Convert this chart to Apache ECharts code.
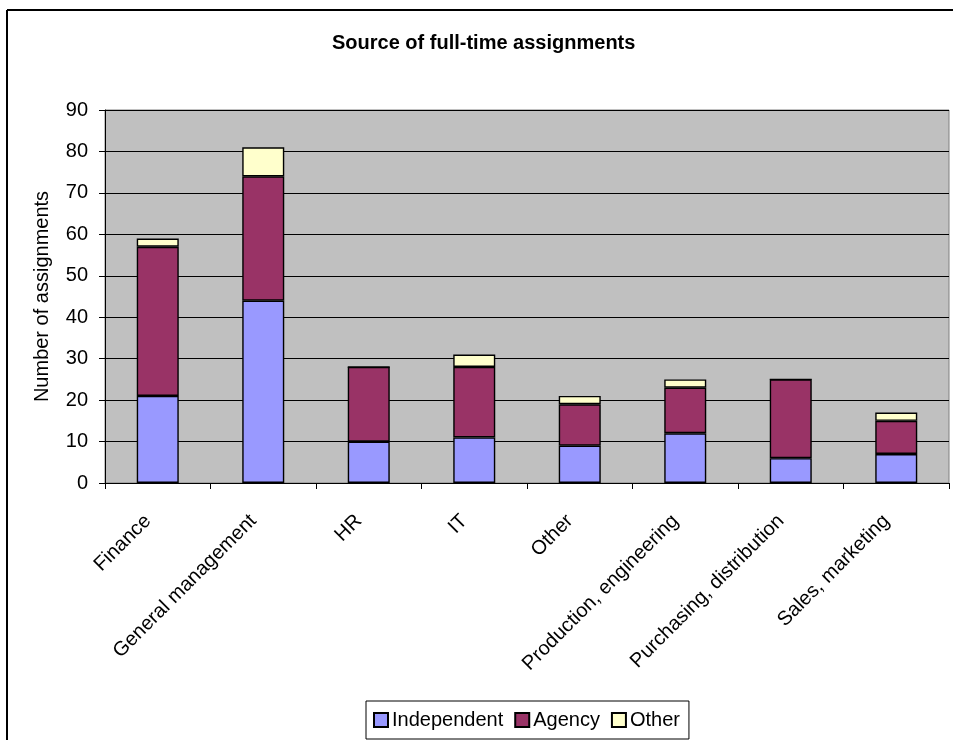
<!DOCTYPE html>
<html>
<head>
<meta charset="utf-8">
<title>Source of full-time assignments</title>
<script src="https://cdn.jsdelivr.net/npm/echarts@6/dist/echarts.min.js"></script>
<style>
  html, body { margin: 0; padding: 0; background: #ffffff; }
  #chart { width: 953px; height: 740px; }
</style>
</head>
<body>
<div id="chart"></div>
<script>
// Job areas along the x axis
const categories = [
  'Finance',
  'General management',
  'HR',
  'IT',
  'Other',
  'Production, engineering',
  'Purchasing, distribution',
  'Sales, marketing'
];

// Number of assignments per source, stacked bottom to top
const independent = [21, 44, 10, 11, 9, 12, 6, 7];
const agency      = [36, 30, 18, 17, 10, 11, 19, 8];
const other       = [2, 7, 0, 3, 2, 2, 0, 2];

// Value axis range
const yMin = 0;
const yMax = 90;
const yStep = 10;

const FONT = '"Liberation Sans", Arial, sans-serif';

const chart = echarts.init(document.getElementById('chart'), null, { renderer: 'canvas' });

function barSeries(name, values, color) {
  return {
    name: name,
    type: 'bar',
    stack: 'total',
    data: values,
    barWidth: 42,
    itemStyle: { color: color, borderColor: '#000000', borderWidth: 1.4 },
    emphasis: { disabled: true }
  };
}

chart.setOption({
  animation: false,
  backgroundColor: '#ffffff',
  title: {
    text: 'Source of full-time assignments',
    left: 327,
    top: 28,
    textStyle: { fontFamily: FONT, fontSize: 20, fontWeight: 'bold', color: '#000000' }
  },
  legend: {
    left: 366,
    top: 701,
    padding: [9, 9, 9, 7],
    itemGap: 11,
    itemWidth: 14,
    itemHeight: 14,
    borderColor: '#000000',
    borderWidth: 1,
    icon: 'rect',
    textStyle: { fontFamily: FONT, fontSize: 20, color: '#000000', padding: [0, 0, 0, -1] },
    data: ['Independent', 'Agency', 'Other']
  },
  grid: {
    left: 105,
    right: 4,
    top: 110,
    bottom: 257,
    show: true,
    backgroundColor: '#c0c0c0',
    borderColor: '#808080',
    borderWidth: 1,
    containLabel: false
  },
  xAxis: {
    type: 'category',
    data: categories,
    boundaryGap: true,
    axisLine: { show: true, lineStyle: { color: '#000000', width: 1 } },
    axisTick: { show: true, alignWithLabel: false, length: 6, lineStyle: { color: '#000000' } },
    axisLabel: {
      interval: 0,
      rotate: 45,
      margin: 25,
      padding: [0, 14, 0, 0],
      fontFamily: FONT,
      fontSize: 20,
      color: '#000000'
    },
    splitLine: { show: false }
  },
  yAxis: {
    type: 'value',
    min: yMin,
    max: yMax,
    interval: yStep,
    name: 'Number of assignments',
    nameLocation: 'middle',
    nameGap: 53,
    nameTextStyle: { fontFamily: FONT, fontSize: 20, color: '#000000' },
    axisLine: { show: true, lineStyle: { color: '#000000', width: 1 } },
    axisTick: { show: true, length: 6, lineStyle: { color: '#000000' } },
    axisLabel: { margin: 17, fontFamily: FONT, fontSize: 20, color: '#000000' },
    splitLine: { show: true, lineStyle: { color: '#000000', width: 1 } }
  },
  series: [
    barSeries('Independent', independent, '#9999ff'),
    barSeries('Agency', agency, '#993366'),
    barSeries('Other', other, '#ffffcc')
  ],
  graphic: [
    // outer chart frame (left and top edges)
    { type: 'line', shape: { x1: 7, y1: 10, x2: 953, y2: 10 }, style: { stroke: '#000000', lineWidth: 2 }, silent: true },
    { type: 'line', shape: { x1: 7, y1: 10, x2: 7, y2: 740 }, style: { stroke: '#000000', lineWidth: 2 }, silent: true }
  ]
});
</script>
</body>
</html>
